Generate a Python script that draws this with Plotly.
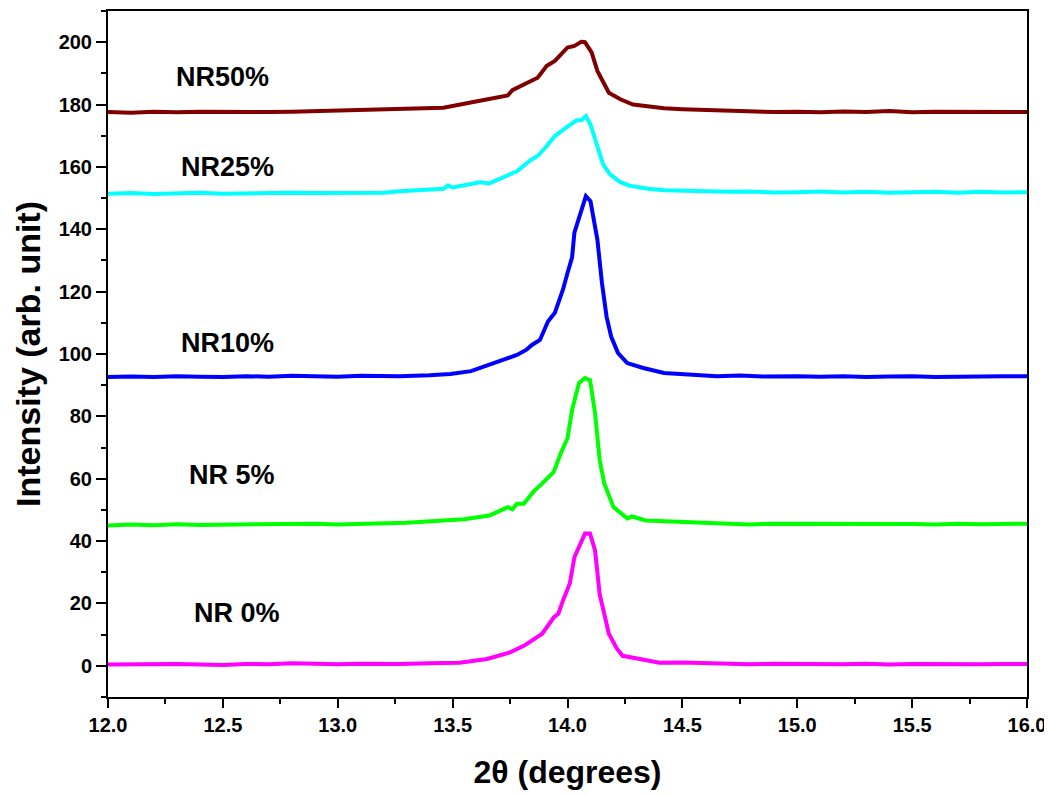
import plotly.graph_objects as go

# ---- data (2θ in degrees, intensity in arb. units) ----
x_nr0 = [12.0, 12.1, 12.2, 12.3, 12.4, 12.5, 12.6, 12.7, 12.8, 12.9, 13.0, 13.1, 13.2, 13.27, 13.4,
         13.53, 13.65, 13.75, 13.81, 13.89, 13.94, 13.96, 13.98, 14.01, 14.03, 14.05, 14.076,
         14.098, 14.12, 14.14, 14.18, 14.215, 14.24, 14.315, 14.40, 14.5, 14.6, 14.7, 14.79, 14.9,
         15.0, 15.1, 15.2, 15.3, 15.4, 15.5, 15.6, 15.7, 15.8, 15.9, 16.0]
y_nr0 = [0.4, 0.5, 0.3, 0.6, 0.4, 0.3, 0.6, 0.5, 0.8, 0.5, 0.5, 0.7, 0.5, 0.6, 0.8,
         1.0, 2.2, 4.3, 6.4, 10.3, 15.5, 16.7, 20.9, 26.4, 34.8, 38.0, 42.4,
         42.4, 37.0, 23.0, 10.3, 5.5, 3.2, 2.2, 1.0, 1.1, 0.9, 0.8, 0.5, 0.7,
         0.6, 0.4, 0.5, 0.7, 0.4, 0.6, 0.5, 0.7, 0.5, 0.6, 0.6]

x_nr5 = [12.0, 12.1, 12.2, 12.3, 12.4, 12.5, 12.6, 12.7, 12.8, 12.9, 13.0, 13.1, 13.2, 13.3, 13.46,
         13.55, 13.66, 13.74, 13.76, 13.78, 13.81, 13.85, 13.89, 13.94, 13.97, 14.0, 14.02, 14.05,
         14.076, 14.098, 14.12, 14.14, 14.16, 14.20, 14.26, 14.28, 14.34, 14.42, 14.5, 14.6, 14.7,
         14.79, 14.9, 15.0, 15.1, 15.2, 15.3, 15.4, 15.5, 15.6, 15.7, 15.8, 15.9, 16.0]
y_nr5 = [45.0, 45.3, 45.1, 45.4, 45.2, 45.3, 45.1, 45.4, 45.3, 45.6, 45.3, 45.5, 45.7, 45.9, 46.6,
         47.0, 48.2, 50.9, 50.2, 52.0, 52.0, 55.7, 58.5, 62.2, 68.0, 73.0, 82.0, 90.7,
         92.3, 91.6, 81.0, 66.0, 58.5, 50.9, 47.3, 47.9, 46.6, 46.4, 46.0, 45.8, 45.6,
         45.3, 45.6, 45.6, 45.4, 45.7, 45.4, 45.5, 45.5, 45.3, 45.6, 45.4, 45.5, 45.6]

x_nr10 = [12.0, 12.1, 12.2, 12.3, 12.4, 12.5, 12.6, 12.7, 12.8, 12.9, 13.0, 13.1, 13.2, 13.27, 13.4,
          13.49, 13.58, 13.66, 13.78, 13.82, 13.845, 13.88, 13.915, 13.945, 13.98, 14.0, 14.02,
          14.03, 14.06, 14.08, 14.10, 14.13, 14.15, 14.17, 14.19, 14.22, 14.26, 14.33, 14.42,
          14.55, 14.65, 14.75, 14.85, 15.0, 15.1, 15.2, 15.3, 15.4, 15.5, 15.6, 15.7, 15.8, 15.9, 16.0]
y_nr10 = [92.6, 92.8, 92.6, 92.9, 92.7, 92.6, 92.9, 92.7, 93.0, 92.8, 92.7, 93.0, 92.8, 92.9, 93.2,
          93.6, 94.5, 96.5, 99.7, 101.3, 102.9, 104.5, 110.4, 113.2, 120.6, 126.0, 131.0,
          138.9, 146.0, 150.6, 149.0, 136.7, 122.8, 112.0, 105.6, 100.3, 97.1, 95.5, 93.9,
          93.3, 92.9, 93.1, 92.8, 92.9, 92.7, 92.9, 92.6, 92.8, 92.9, 92.6, 92.8, 92.7, 92.9, 92.9]

x_nr25 = [12.0, 12.1, 12.2, 12.3, 12.4, 12.5, 12.6, 12.7, 12.8, 12.9, 13.0, 13.1, 13.2, 13.27,
          13.38, 13.46, 13.48, 13.50, 13.62, 13.66, 13.69, 13.78, 13.84, 13.87, 13.91, 13.945,
          14.0, 14.04, 14.06, 14.08, 14.10, 14.13, 14.155, 14.185, 14.23, 14.27, 14.35, 14.42,
          14.5, 14.58, 14.7, 14.79, 14.9, 15.0, 15.1, 15.2, 15.3, 15.4, 15.5, 15.6, 15.7, 15.8,
          15.9, 16.0]
y_nr25 = [151.4, 151.6, 151.3, 151.5, 151.7, 151.4, 151.6, 151.5, 151.7, 151.6, 151.6, 151.8, 151.7,
          152.2, 152.5, 153.0, 154.0, 153.4, 155.1, 154.7, 155.7, 158.6, 162.2, 163.5, 166.7, 169.9,
          172.9, 175.0, 175.0, 176.3, 173.6, 166.7, 160.8, 157.6, 155.1, 154.0, 153.0, 152.5,
          152.3, 152.2, 152.0, 152.1, 151.8, 151.9, 152.1, 151.8, 152.0, 151.7, 151.8, 152.0, 151.7,
          152.0, 151.8, 151.9]

x_nr50 = [12.0, 12.1, 12.2, 12.3, 12.4, 12.5, 12.6, 12.7, 12.8, 12.9, 13.0, 13.1, 13.2, 13.27,
          13.38, 13.46, 13.59, 13.68, 13.74, 13.76, 13.84, 13.87, 13.91, 13.945, 14.0, 14.03,
          14.06, 14.076, 14.105, 14.13, 14.18, 14.23, 14.285, 14.36, 14.42, 14.50, 14.6, 14.7,
          14.79, 14.9, 15.0, 15.1, 15.2, 15.3, 15.4, 15.5, 15.6, 15.7, 15.8, 15.9, 16.0]
y_nr50 = [177.6, 177.4, 177.7, 177.5, 177.7, 177.6, 177.8, 177.6, 177.7, 177.9, 177.9, 178.1, 178.2,
          178.5, 178.7, 179.0, 180.8, 181.9, 182.9, 184.6, 187.6, 188.6, 192.4, 194.0, 198.3, 198.8,
          200.1, 200.0, 196.7, 190.8, 183.8, 181.7, 180.0, 179.3, 178.8, 178.5, 178.2, 177.9,
          177.9, 177.6, 177.7, 177.5, 177.8, 177.6, 177.9, 177.5, 177.7, 177.6, 177.8, 177.5, 177.6]

series_names = ["NR 0%", "NR 5%", "NR10%", "NR25%", "NR50%"]
series_colors = ["#FF00FF", "#00FF00", "#0000FF", "#00FFFF", "#800000"]
label_x = [12.56, 12.54, 12.52, 12.52, 12.50]
label_y = [17.0, 61.1, 103.5, 160.1, 188.7]

xs = [x_nr0, x_nr5, x_nr10, x_nr25, x_nr50]
ys = [y_nr0, y_nr5, y_nr10, y_nr25, y_nr50]

FONT = "Arial, Liberation Sans, sans-serif"

fig = go.Figure()
for xv, yv, name, col in zip(xs, ys, series_names, series_colors):
    fig.add_trace(go.Scatter(x=xv, y=yv, mode="lines", name=name,
                             line=dict(color=col, width=4), showlegend=False))

for name, lx, ly in zip(series_names, label_x, label_y):
    fig.add_annotation(x=lx, y=ly, text=f"<b>{name}</b>", showarrow=False,
                       font=dict(family=FONT, size=27, color="black"))

axis_common = dict(showline=True, linecolor="black", linewidth=2, mirror=True,
                   ticks="outside", tickcolor="black", tickwidth=2, showgrid=False,
                   zeroline=False, automargin=False,
                   tickfont=dict(family=FONT, size=20, color="black", weight="bold"))

fig.update_xaxes(range=[12.0, 16.0], tick0=12.0, dtick=0.5, tickformat=".1f", ticklen=9,
                 minor=dict(dtick=0.25, ticks="outside", ticklen=5, tickcolor="black", tickwidth=2),
                 title=dict(text="<b>2θ (degrees)</b>", font=dict(family=FONT, size=32, color="black"),
                            standoff=26),
                 **axis_common)
fig.update_yaxes(range=[-10, 210], tick0=0, dtick=20, ticklen=10,
                 minor=dict(dtick=10, ticks="outside", ticklen=5, tickcolor="black", tickwidth=2),
                 title=dict(text="<b>Intensity (arb. unit)</b>", font=dict(family=FONT, size=34, color="black"),
                            standoff=8),
                 **axis_common)

# the page body adds an 8 px offset, so the figure is sized/margined to land the plot area
fig.update_layout(width=1044, height=786, plot_bgcolor="white", paper_bgcolor="white",
                  margin=dict(l=100, r=25, t=3, b=97))

fig.write_html("out.html")
